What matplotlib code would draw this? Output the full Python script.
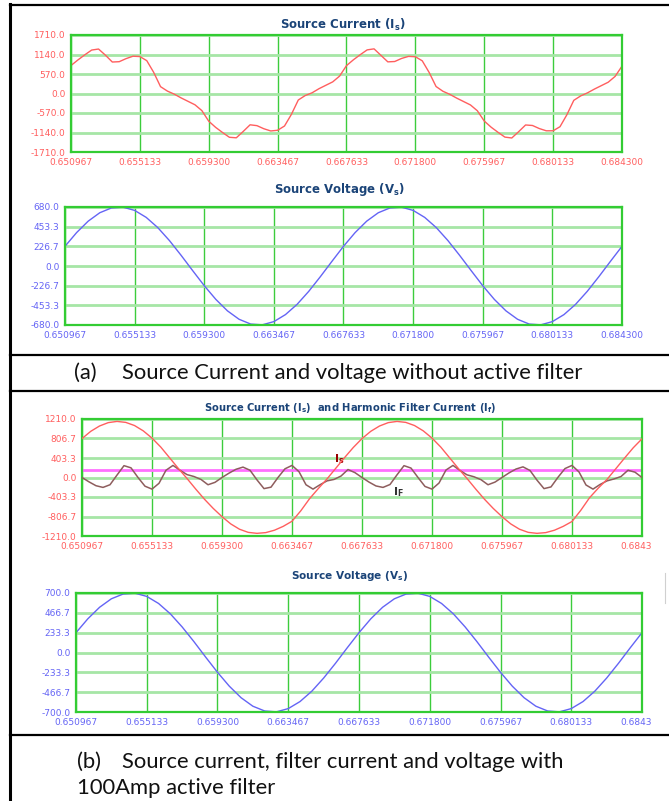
import numpy as np
import matplotlib
matplotlib.use('Agg')
import matplotlib.pyplot as plt
from matplotlib.lines import Line2D
from matplotlib.patches import Rectangle

# ---------------- data ----------------
time_start = 0.650967
time_end = 0.684300
x_tick_values = [0.650967, 0.655133, 0.659300, 0.663467, 0.667633,
                 0.671800, 0.675967, 0.680133, 0.684300]
x_tick_labels = ['0.650967', '0.655133', '0.659300', '0.663467', '0.667633',
                 '0.671800', '0.675967', '0.680133', '0.684300']

# (a) source current without filter (81 samples over the window)
is_no_filter = [
    818, 980, 1130, 1270, 1300, 1120, 920, 930, 1020, 1090,
    1080, 960, 620, 200, 70, -20, -130, -230, -330, -500,
    -810, -990, -1140, -1280, -1295, -1110, -915, -940, -1030, -1095,
    -1075, -950, -610, -190, -60, 20, 140, 240, 340, 510,
    815, 985, 1135, 1275, 1305, 1115, 925, 935, 1025, 1085,
    1075, 955, 615, 205, 65, -25, -135, -235, -335, -505,
    -805, -985, -1135, -1275, -1300, -1115, -920, -935, -1025, -1090,
    -1090, -970, -620, -200, -70, 20, 130, 230, 330, 500,
    800]
is_no_filter_ticks = [1710.0, 1140.0, 570.0, 0.0, -570.0, -1140.0, -1710.0]
is_no_filter_labels = ['1710.0', '1140.0', '570.0', '0.0', '-570.0', '-1140.0', '-1710.0']

# (a) source voltage (49 samples)
vs_no_filter = [
    227, 385, 517, 614, 669, 678, 641, 560, 442, 293, 124, -53,
    -227, -385, -517, -614, -669, -678, -641, -560, -442, -293, -124, 53,
    227, 385, 517, 614, 669, 678, 641, 560, 442, 293, 124, -53,
    -227, -385, -517, -614, -669, -678, -641, -560, -442, -293, -124, 53,
    227]
vs_no_filter_ticks = [680.0, 453.3, 226.7, 0.0, -226.7, -453.3, -680.0]
vs_no_filter_labels = ['680.0', '453.3', '226.7', '0.0', '-226.7', '-453.3', '-680.0']

# (b) source current with filter (65 samples)
is_filter = [
    805, 955, 1065, 1135, 1160, 1140, 1075, 965, 815, 630, 410, 190, -20, -240, -450, -640,
    -810, -960, -1070, -1135, -1155, -1140, -1090, -1010, -905, -690, -440, -230, -30, 190, 410, 620,
    805, 955, 1065, 1135, 1160, 1140, 1075, 965, 815, 630, 410, 190, -20, -240, -450, -640,
    -810, -960, -1070, -1135, -1155, -1140, -1090, -1010, -910, -680, -420, -220, -40, 180, 400, 615,
    800]
# (b) harmonic filter current (81 samples)
if_filter = [
    0, -90, -170, -205, -150, 50, 245, 200, 0, -180,
    -240, -120, 150, 250, 150, 60, 20, -40, -150, -100,
    0, 90, 170, 215, 150, -50, -230, -200, 0, 180,
    250, 120, -150, -240, -150, -70, -40, 30, 165, 100,
    0, -95, -175, -205, -145, 55, 245, 195, 0, -185,
    -240, -115, 155, 250, 145, 55, 15, -45, -150, -95,
    0, 95, 175, 220, 145, -55, -230, -195, 5, 185,
    250, 115, -155, -240, -145, -70, -30, 20, 150, 110,
    0]
pink_level = 145
is_filter_ticks = [1210.0, 806.7, 403.3, 0.0, -403.3, -806.7, -1210.0]
is_filter_labels = ['1210.0', '806.7', '403.3', '0.0', '-403.3', '-806.7', '-1210.0']

# (b) source voltage (49 samples)
vs_filter = [
    233, 396, 532, 632, 688, 698, 660, 577, 455, 301, 128, -55,
    -233, -396, -532, -632, -688, -698, -660, -577, -455, -301, -128, 55,
    233, 396, 532, 632, 688, 698, 660, 577, 455, 301, 128, -55,
    -233, -396, -532, -632, -688, -698, -660, -577, -455, -301, -128, 55,
    233]
vs_filter_ticks = [700.0, 466.7, 233.3, 0.0, -233.3, -466.7, -700.0]
vs_filter_labels = ['700.0', '466.7', '233.3', '0.0', '-233.3', '-466.7', '-700.0']

caption_a = ['(a)', 'Source Current and voltage without active filter']
caption_b = ['(b)', 'Source current, filter current and voltage with', '100Amp active filter']

# ---------------- style ----------------
W, H = 669, 801
fig = plt.figure(figsize=(W / 100, H / 100), dpi=100)

RED = '#ff5e5e'
BLUE = '#6464f5'
TITLE = '#1b4478'
VGRID = '#3ccc3c'
HGRID = '#a6e6a6'


def rect(l, t, r, b):
    return [l / W, 1 - b / H, (r - l) / W, (b - t) / H]


def make_axes(box, yticks, ylabels, tick_color):
    ax = fig.add_axes(rect(*box))
    ax.set_xlim(time_start, time_end)
    ax.set_ylim(yticks[-1], yticks[0])
    ax.set_xticks(x_tick_values)
    ax.set_xticklabels(x_tick_labels)
    ax.set_yticks(yticks)
    ax.set_yticklabels(ylabels)
    ax.tick_params(length=0, labelsize=6.5, colors=tick_color)
    ax.tick_params(axis='y', pad=4)
    ax.tick_params(axis='x', pad=4.2)
    ax.set_axisbelow(True)
    ax.grid(axis='x', color=VGRID, lw=1.0)
    ax.grid(axis='y', color=HGRID, lw=2.0)
    for s in ax.spines.values():
        s.set_color('#33cc33')
        s.set_linewidth(1.6)
    return ax


# panel 1
ax1 = make_axes((71, 35, 622, 152), is_no_filter_ticks, is_no_filter_labels, RED)
t1 = np.linspace(time_start, time_end, len(is_no_filter))
ax1.plot(t1, is_no_filter, color=RED, lw=1.0)

# panel 2
ax2 = make_axes((65, 207, 622, 325), vs_no_filter_ticks, vs_no_filter_labels, BLUE)
t2 = np.linspace(time_start, time_end, len(vs_no_filter))
ax2.plot(t2, vs_no_filter, color=BLUE, lw=1.0)

# panel 3
ax3 = make_axes((82, 419, 642, 536), is_filter_ticks, is_filter_labels, RED)
ax3.axhline(pink_level, color='#ff70ff', lw=2.0, zorder=2)
t3a = np.linspace(time_start, time_end, len(if_filter))
ax3.plot(t3a, if_filter, color='#8e5d5d', lw=1.1, zorder=3)
t3b = np.linspace(time_start, time_end, len(is_filter))
ax3.plot(t3b, is_filter, color=RED, lw=1.0, zorder=4)
ax3.text(0.66630, 390, r'$\mathbf{I_s}$', color='#990000', fontsize=8,
         ha='center', va='center')
ax3.text(0.66978, -300, r'$\mathbf{I_F}$', color='#333333', fontsize=8,
         ha='center', va='center')

# panel 4
ax4 = make_axes((76, 593, 642, 712), vs_filter_ticks, vs_filter_labels, BLUE)
t4 = np.linspace(time_start, time_end, len(vs_filter))
ax4.plot(t4, vs_filter, color=BLUE, lw=1.0)

# titles
def ftitle(x, y, s, size):
    fig.text(x / W, 1 - y / H, s, ha='center', va='center', fontsize=size,
             fontweight='bold', color=TITLE)

ftitle(343, 25, r'Source Current (I$_{\mathbf{s}}$)', 8.5)
ftitle(340, 190, r'Source Voltage (V$_{\mathbf{s}}$)', 8.5)
ftitle(350, 408, r'Source Current (I$_{\mathbf{s}}$)  and Harmonic Filter Current (I$_{\mathbf{f}}$)', 7.2)
ftitle(350, 576, r'Source Voltage (V$_{\mathbf{s}}$)', 7.6)

# captions (font size fitted to the reference text width)
renderer = fig.canvas.get_renderer()

def ctext(x, y, s, target_w=None, size=14.0):
    t = fig.text(x / W, 1 - y / H, s, ha='left', va='center', fontsize=size,
                 family='Lato', color='#111111')
    if target_w is not None:
        w = t.get_window_extent(renderer).width
        t.set_fontsize(size * target_w / w)
    return t

ref = ctext(122, 373, caption_a[1], target_w=463)
cap_size = ref.get_fontsize()
ctext(74, 373, caption_a[0], size=cap_size)
ctext(77, 762, caption_b[0], size=cap_size)
ctext(122, 762, caption_b[1], size=cap_size)
ctext(77, 788, caption_b[2], size=cap_size)

# frame lines
def hline(y, x0=10, x1=669, lw=1.6):
    fig.add_artist(Line2D([x0 / W, x1 / W], [1 - y / H, 1 - y / H],
                          transform=fig.transFigure, color='black', lw=lw))

def vline(x, y0, y1, lw=2.2, color='black'):
    fig.add_artist(Line2D([x / W, x / W], [1 - y0 / H, 1 - y1 / H],
                          transform=fig.transFigure, color=color, lw=lw))

hline(5)
hline(355)
hline(391)
hline(735)
vline(10, 4, 801)
vline(665, 573, 603, lw=0.8, color='#d0d0d0')

# the source image is cut at its right edge: mask the end of the last
# tick label of the lower panels
for yc in (547, 724):
    fig.add_artist(Rectangle((651 / W, 1 - (yc + 7) / H), 18 / W, 14 / H,
                             transform=fig.transFigure, facecolor='white',
                             edgecolor='none', zorder=10))

fig.savefig('out.png', dpi=100)
